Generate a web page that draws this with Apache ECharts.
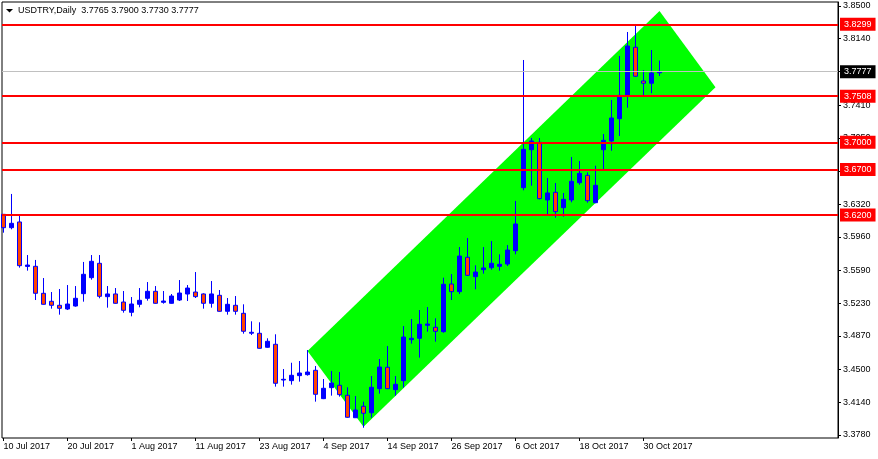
<!DOCTYPE html>
<html><head><meta charset="utf-8">
<script src="https://cdn.jsdelivr.net/npm/echarts@6/dist/echarts.min.js"></script>
<style>html,body{margin:0;padding:0;background:#fff}#c{width:878px;height:459px}</style>
</head><body><div id="c"></div>
<script>
const dates = [
'10 Jul 2017','11 Jul 2017','12 Jul 2017','13 Jul 2017','14 Jul 2017','17 Jul 2017','18 Jul 2017','19 Jul 2017','20 Jul 2017','21 Jul 2017',
'24 Jul 2017','25 Jul 2017','26 Jul 2017','27 Jul 2017','28 Jul 2017','31 Jul 2017',
'1 Aug 2017','2 Aug 2017','3 Aug 2017','4 Aug 2017','7 Aug 2017','8 Aug 2017','9 Aug 2017','10 Aug 2017','11 Aug 2017','14 Aug 2017',
'15 Aug 2017','16 Aug 2017','17 Aug 2017','18 Aug 2017','21 Aug 2017','22 Aug 2017','23 Aug 2017','24 Aug 2017','25 Aug 2017','28 Aug 2017',
'29 Aug 2017','30 Aug 2017','31 Aug 2017',
'1 Sep 2017','4 Sep 2017','5 Sep 2017','6 Sep 2017','7 Sep 2017','8 Sep 2017','11 Sep 2017','12 Sep 2017','13 Sep 2017','14 Sep 2017',
'15 Sep 2017','18 Sep 2017','19 Sep 2017','20 Sep 2017','21 Sep 2017','22 Sep 2017','25 Sep 2017','26 Sep 2017','27 Sep 2017','28 Sep 2017','29 Sep 2017',
'2 Oct 2017','3 Oct 2017','4 Oct 2017','5 Oct 2017','6 Oct 2017','9 Oct 2017','10 Oct 2017','11 Oct 2017','12 Oct 2017','13 Oct 2017',
'16 Oct 2017','17 Oct 2017','18 Oct 2017','19 Oct 2017','20 Oct 2017','23 Oct 2017','24 Oct 2017','25 Oct 2017','26 Oct 2017','27 Oct 2017',
'30 Oct 2017','31 Oct 2017','1 Nov 2017'
];
const opens = [
3.6208,3.6061,3.6124,3.5635,3.5636,3.5339,3.5251,3.5207,3.5166,3.5199,
3.5335,3.5511,3.5669,3.5302,3.5332,3.5243,3.5130,3.5218,3.5284,3.5361,
3.5240,3.5229,3.5265,3.5331,3.5353,3.5332,3.5229,3.5317,3.5141,3.5207,
3.5119,3.4900,3.4899,3.4745,3.4778,3.4385,3.4378,3.4433,3.4444,3.4492,
3.4180,3.4301,3.4327,3.4217,3.3970,3.4096,3.4025,3.4290,3.4525,3.4279,
3.4378,3.4829,3.4844,3.4987,3.4965,3.4917,3.5441,3.5357,3.5735,3.5522,
3.5599,3.5621,3.5636,3.5661,3.5808,3.6501,3.6919,3.7000,3.6366,3.6450,
3.6281,3.6366,3.6556,3.6637,3.6336,3.6919,3.7015,3.7260,3.7517,3.8046,
3.7675,3.7650,3.7765
];
const highs = [
3.6210,3.6432,3.6208,3.5760,3.5706,3.5507,3.5353,3.5386,3.5430,3.5419,
3.5684,3.5760,3.5760,3.5419,3.5397,3.5364,3.5298,3.5397,3.5463,3.5419,
3.5364,3.5331,3.5485,3.5430,3.5573,3.5339,3.5474,3.5375,3.5287,3.5309,
3.5218,3.5031,3.5020,3.4844,3.4888,3.4506,3.4575,3.4594,3.4715,3.4539,
3.4396,3.4484,3.4473,3.4305,3.4209,3.4147,3.4429,3.4616,3.4759,3.4429,
3.4979,3.5056,3.5155,3.5188,3.5064,3.5511,3.5551,3.5848,3.5947,3.5647,
3.5848,3.5914,3.5768,3.5870,3.6355,3.7906,3.7048,3.7048,3.6608,3.6553,
3.6443,3.6839,3.6795,3.6670,3.6743,3.7092,3.7466,3.7950,3.8214,3.8302,
3.7796,3.8016,3.7900
];
const lows = [
3.6006,3.6043,3.5621,3.5588,3.5265,3.5215,3.5170,3.5104,3.5155,3.5192,
3.5247,3.5489,3.5284,3.5181,3.5225,3.5126,3.5086,3.5185,3.5258,3.5225,
3.5225,3.5225,3.5254,3.5254,3.5287,3.5170,3.5181,3.5137,3.5104,3.5104,
3.4895,3.4880,3.4730,3.4740,3.4312,3.4312,3.4334,3.4367,3.4433,3.4147,
3.4175,3.4213,3.4202,3.3970,3.3968,3.3860,3.3970,3.4235,3.4285,3.4213,
3.4301,3.4785,3.4631,3.4917,3.4807,3.4905,3.5265,3.5331,3.5530,3.5383,
3.5555,3.5599,3.5588,3.5639,3.5768,3.6472,3.6523,3.6373,3.6193,3.6171,
3.6182,3.6340,3.6534,3.6336,3.6330,3.6703,3.6908,3.7070,3.7381,3.7720,
3.7521,3.7540,3.7730
];
const closes = [
3.6061,3.6109,3.5643,3.5650,3.5339,3.5218,3.5207,3.5174,3.5221,3.5284,
3.5548,3.5691,3.5306,3.5332,3.5229,3.5152,3.5221,3.5262,3.5361,3.5229,
3.5254,3.5309,3.5342,3.5397,3.5302,3.5229,3.5332,3.5141,3.5218,3.5141,
3.4921,3.4910,3.4734,3.4811,3.4349,3.4393,3.4437,3.4462,3.4473,3.4228,
3.4294,3.4352,3.4224,3.3975,3.4055,3.4019,3.4305,3.4528,3.4290,3.4338,
3.4858,3.4844,3.4998,3.5001,3.4921,3.5438,3.5357,3.5749,3.5537,3.5573,
3.5618,3.5669,3.5658,3.5815,3.6102,3.6923,3.7015,3.6380,3.6443,3.6237,
3.6373,3.6571,3.6659,3.6358,3.6527,3.7022,3.7268,3.7517,3.8060,3.7727,
3.7650,3.7763,3.7777
];
const levels = [3.8299, 3.7508, 3.7000, 3.6700, 3.6200];
const lastPrice = 3.7777;
const yTicks = [3.3780,3.4140,3.4500,3.4870,3.5230,3.5590,3.5960,3.6320,3.6680,3.7050,3.7410,3.7780,3.8140,3.8500];
const channelIdx = [38, 45, 89, 82];
const channelPrice = [3.4704, 3.3871, 3.7605, 3.8445];
const titleText = 'USDTRY,Daily  3.7765 3.7900 3.7730 3.7777';

const SLOTS = 105;
const cats = dates.slice();
for (let i = dates.length; i < SLOTS; i++) cats.push('_' + i);
const candles = dates.map((d, i) => [opens[i], closes[i], lows[i], highs[i]]);
const yMin = 3.3747, yMax = 3.8544;
const FONT = 'Liberation Sans';
const showIdx = (i) => i % 8 === 0 && i < dates.length;

const chart = echarts.init(document.getElementById('c'), null, {renderer: 'canvas'});
const markData = levels.map(v => ({
  yAxis: v, name: v.toFixed(4),
  lineStyle: {color: '#ff0000', width: 2, type: 'solid'},
  label: {backgroundColor: '#ff0000', color: '#ffffff'}
}));
markData.unshift({
  yAxis: lastPrice, name: lastPrice.toFixed(4),
  lineStyle: {color: '#c0c0c0', width: 1, type: 'solid'},
  label: {backgroundColor: '#000000', color: '#ffffff'}
});

chart.setOption({
  animation: false,
  backgroundColor: '#ffffff',
  title: {
    text: titleText, left: 18, top: 6, padding: 0,
    textStyle: {fontFamily: FONT, fontSize: 9, fontWeight: 'normal', color: '#000', lineHeight: 10}
  },
  graphic: [{type: 'polygon', shape: {points: [[6, 9], [13, 9], [9.5, 12.5]]}, style: {fill: '#000'}}],
  grid: [
    {left: 2, right: 40, top: 2, bottom: 21, show: true, borderColor: '#000', borderWidth: 1, backgroundColor: 'transparent'},
    {left: 3.5, right: 42.5, top: 2, bottom: 21}
  ],
  xAxis: [
    {gridIndex: 0, type: 'value', min: 0, max: 1, show: false, axisLine: {onZero: false}},
    {gridIndex: 1, type: 'category', data: cats, boundaryGap: false,
      axisLine: {show: false, onZero: false},
      axisTick: {show: true, interval: showIdx, length: 3, lineStyle: {color: '#000'}},
      axisLabel: {interval: showIdx, formatter: (v, i) => (i < dates.length ? v : ''), align: 'left', margin: 4,
        fontSize: 9, fontFamily: FONT, color: '#000'},
      splitLine: {show: false}}
  ],
  yAxis: [
    {gridIndex: 0, type: 'value', position: 'right', min: yMin, max: yMax,
      axisLine: {show: true, onZero: false, lineStyle: {color: '#000'}},
      axisTick: {show: true, length: 3, customValues: yTicks, lineStyle: {color: '#000'}},
      axisLabel: {customValues: yTicks, formatter: v => v.toFixed(4), margin: 5, fontSize: 9, fontFamily: FONT, color: '#000'},
      splitLine: {show: false}},
    {gridIndex: 1, type: 'value', min: yMin, max: yMax, show: false, axisLine: {onZero: false}, splitLine: {show: false}}
  ],
  series: [
    {
      type: 'custom', xAxisIndex: 1, yAxisIndex: 1, z: 1, silent: true,
      data: [[channelIdx[0], channelPrice[0]]],
      renderItem: (params, api) => ({
        type: 'polygon',
        shape: {points: channelIdx.map((x, i) => api.coord([x, channelPrice[i]]))},
        style: {fill: '#00ff00'}
      })
    },
    {
      type: 'candlestick', xAxisIndex: 1, yAxisIndex: 1, z: 3, silent: true,
      data: candles, barWidth: 4,
      itemStyle: {color: '#0000ff', color0: '#ff4500', borderColor: '#0000ff', borderColor0: '#0000ff', borderWidth: 1}
    },
    {
      type: 'line', xAxisIndex: 0, yAxisIndex: 0, z: 5, data: [], silent: true,
      markLine: {
        symbol: ['none', 'none'], silent: true, animation: false, precision: 4,
        label: {show: true, position: 'end', distance: 2, formatter: p => p.name,
          fontSize: 9, fontFamily: FONT, padding: [2, 4, 1, 4], lineHeight: 10},
        data: markData
      }
    }
  ]
});
</script></body></html>
